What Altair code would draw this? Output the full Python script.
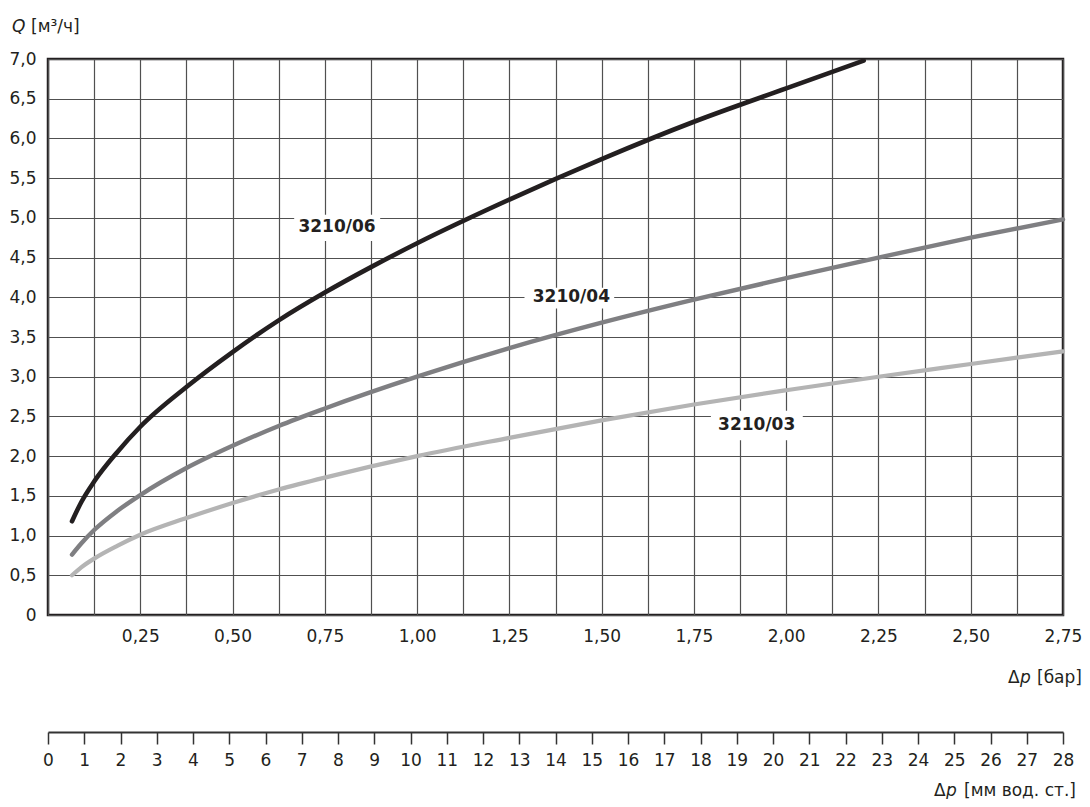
import altair as alt
import pandas as pd

# ---- data ----
p_06 = [0.065, 0.09, 0.125, 0.1875, 0.25, 0.375, 0.5, 0.625, 0.75, 0.875, 1.0, 1.25, 1.5, 1.75, 2.0, 2.21]
q_06 = [1.18, 1.42, 1.68, 2.05, 2.37, 2.87, 3.31, 3.71, 4.06, 4.38, 4.68, 5.23, 5.74, 6.21, 6.63, 6.98]

p_04 = [0.065, 0.09, 0.125, 0.1875, 0.25, 0.375, 0.5, 0.625, 0.75, 1.0, 1.25, 1.5, 1.75, 2.0, 2.25, 2.5, 2.75]
q_04 = [0.76, 0.90, 1.07, 1.31, 1.51, 1.85, 2.13, 2.38, 2.60, 3.00, 3.36, 3.68, 3.97, 4.24, 4.50, 4.75, 4.98]

p_03 = [0.065, 0.09, 0.125, 0.1875, 0.25, 0.375, 0.5, 0.625, 0.75, 1.0, 1.25, 1.5, 1.75, 2.0, 2.25, 2.5, 2.75]
q_03 = [0.50, 0.60, 0.71, 0.87, 1.01, 1.22, 1.41, 1.58, 1.73, 2.00, 2.23, 2.45, 2.65, 2.83, 3.00, 3.16, 3.32]

series_names = ["3210/06", "3210/04", "3210/03"]
series_colors = ["#231f20", "#7f7f82", "#b4b4b4"]
series_widths = [4.6, 4.2, 4.2]

# label annotations (data coordinates)
label_text = ["3210/06", "3210/04", "3210/03"]
label_p = [0.783, 1.418, 1.92]
label_q = [4.88, 4.0, 2.39]
box_p1 = [0.667, 1.291, 1.796]
box_p2 = [0.900, 1.534, 2.045]
box_q1 = [4.71, 3.86, 2.20]
box_q2 = [5.04, 4.12, 2.57]

x_grid_values = [i * 0.125 for i in range(23)]
y_values = [i * 0.5 for i in range(15)]
mm_ticks = list(range(29))

FONT = "DejaVu Sans"
INK = "#231f20"
FS = 17

rows = []
for name, ps, qs in zip(series_names, [p_06, p_04, p_03], [q_06, q_04, q_03]):
    for i, (p, q) in enumerate(zip(ps, qs)):
        rows.append({"series": name, "p": p, "q": q, "order": i})
df = pd.DataFrame(rows)

df_lab = pd.DataFrame({
    "label": label_text, "p": label_p, "q": label_q,
    "p1": box_p1, "p2": box_p2, "q1": box_q1, "q2": box_q2,
})

x_scale = alt.Scale(domain=[0, 2.75], nice=False, zero=False)
y_scale = alt.Scale(domain=[0, 7], nice=False)

x_axis = alt.Axis(
    values=x_grid_values, grid=True, ticks=False, domain=False,
    gridColor="#505050", gridWidth=1.2,
    labelExpr="datum.value == 0 || round(datum.value * 8) % 2 == 1 ? '' : replace(format(datum.value, '.2f'), '.', ',')",
    labelPadding=13, labelFontSize=FS, labelFont=FONT, labelColor=INK,
    labelOverlap=False, labelFlush=False, title=None,
)
y_axis = alt.Axis(
    values=y_values, grid=True, ticks=False, domain=False,
    gridColor="#505050", gridWidth=1.2,
    labelExpr="datum.value == 0 ? '0' : replace(format(datum.value, '.1f'), '.', ',')",
    labelPadding=12, labelFontSize=FS, labelFont=FONT, labelColor=INK,
    labelOverlap=False, labelFlush=False, title=None,
)

curves = alt.Chart(df).mark_line(
    interpolate="monotone", strokeCap="round", strokeJoin="round"
).encode(
    x=alt.X("p:Q", scale=x_scale, axis=x_axis),
    y=alt.Y("q:Q", scale=y_scale, axis=y_axis),
    color=alt.Color("series:N", scale=alt.Scale(domain=series_names, range=series_colors), legend=None),
    strokeWidth=alt.StrokeWidth("series:N", scale=alt.Scale(domain=series_names, range=series_widths), legend=None),
    order="order:Q",
)

boxes = alt.Chart(df_lab).mark_rect(color="white").encode(
    x=alt.X("p1:Q", scale=x_scale, axis=x_axis), x2="p2:Q",
    y=alt.Y("q1:Q", scale=y_scale, axis=y_axis), y2="q2:Q",
)

labels = alt.Chart(df_lab).mark_text(
    font=FONT, fontSize=17, fontWeight="bold", color=INK, align="center", baseline="middle"
).encode(
    x=alt.X("p:Q", scale=x_scale, axis=x_axis),
    y=alt.Y("q:Q", scale=y_scale, axis=y_axis),
    text="label:N",
)

inner = alt.layer(boxes, curves, labels)

axis2 = alt.Chart(pd.DataFrame({"mm": mm_ticks})).mark_point(opacity=0).encode(
    x=alt.X("mm:Q", scale=alt.Scale(domain=[0, 28], nice=False, zero=False),
            axis=alt.Axis(orient="bottom", offset=117, values=mm_ticks, format="d",
                          grid=False, tickSize=12, tickWidth=1.5, tickColor="#333333",
                          domainColor="#333333", domainWidth=2,
                          labelPadding=8, labelFontSize=FS, labelFont=FONT, labelColor=INK,
                          labelOverlap=False, labelFlush=False, title=None)),
    y=alt.value(0),
)


def txt(s, x, y, italic=False, size=FS):
    return alt.Chart(pd.DataFrame({"t": [s]})).mark_text(
        font=FONT, fontSize=size, fontStyle="italic" if italic else "normal",
        color=INK, align="left", baseline="alphabetic",
    ).encode(x=alt.value(x), y=alt.value(y), text="t:N")


titles = [
    txt("Q", -36, -27, italic=True),
    txt("[м³/ч]", -17, -27),
    txt("Δ", 960, 624),
    txt("p", 972, 624, italic=True),
    txt("[бар]", 989, 624),
    txt("Δ", 886, 737),
    txt("p", 898, 737, italic=True),
    txt("[мм вод. ст.]", 916, 737),
]

chart = alt.layer(inner, axis2, *titles).resolve_scale(x="independent").properties(
    width=1015, height=556,
    padding={"left": 40, "top": 51, "right": 19, "bottom": 184},
    autosize=alt.AutoSizeParams(type="none"),
    background="white",
).configure_view(stroke=INK, strokeWidth=2.5)

chart.save("out.html", embed_options={"renderer": "svg", "actions": False})
